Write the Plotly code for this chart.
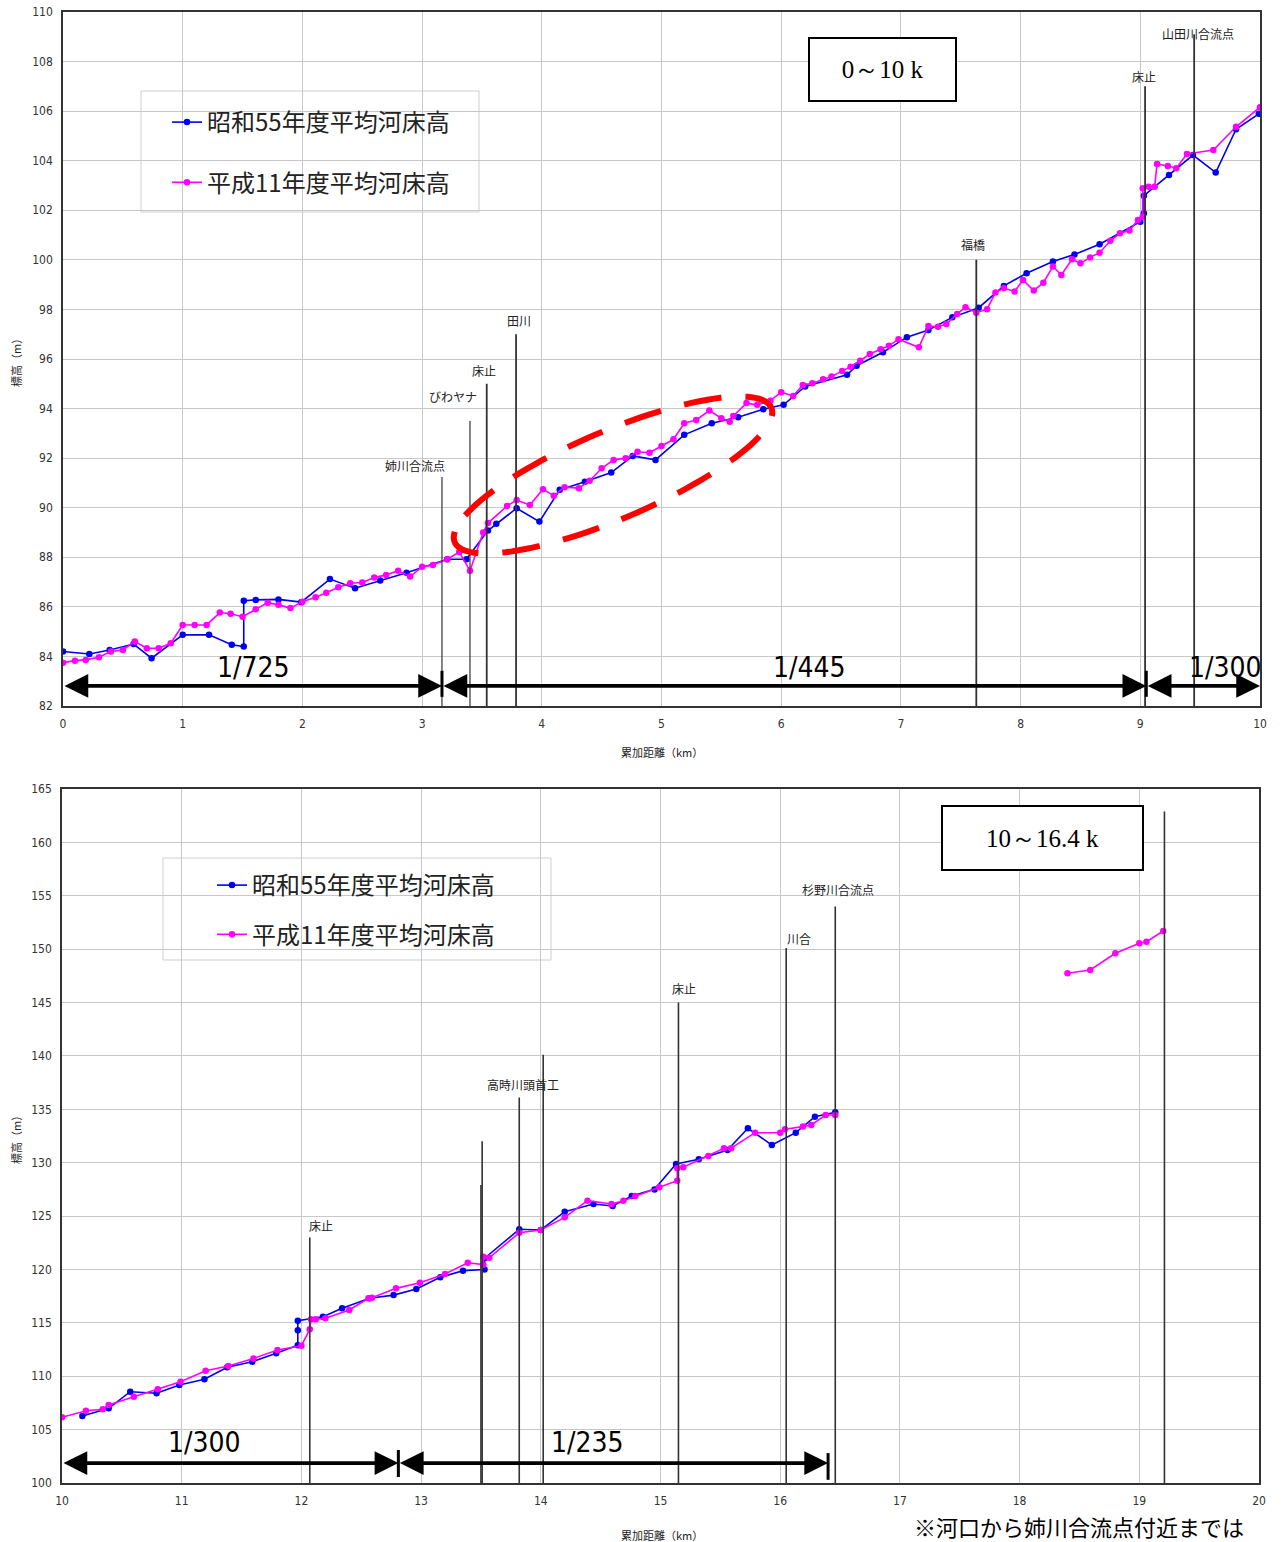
import math
import plotly.graph_objects as go

W, H = 1285, 1542

# ---------------- data: 0-10 k ----------------
s55_top = [(0.0, 84.2), (0.22, 84.1), (0.39, 84.26), (0.59, 84.5), (0.74, 83.93), (1.0, 84.87),
           (1.22, 84.87), (1.41, 84.47), (1.51, 84.4), (1.51, 86.25), (1.61, 86.28), (1.80, 86.3),
           (1.99, 86.19), (2.23, 87.12), (2.44, 86.75), (2.65, 87.06), (2.87, 87.38), (3.21, 87.92),
           (3.37, 87.92), (3.55, 89.08), (3.62, 89.35), (3.79, 89.98), (3.98, 89.44), (4.15, 90.72),
           (4.36, 91.05), (4.58, 91.42), (4.76, 92.09), (4.95, 91.93), (5.19, 92.94), (5.42, 93.41),
           (5.64, 93.65), (5.85, 93.97), (6.02, 94.15), (6.20, 94.89), (6.55, 95.36), (6.63, 95.73),
           (6.85, 96.27), (7.05, 96.88), (7.23, 97.17), (7.43, 97.68), (7.65, 98.07), (7.86, 98.95),
           (8.05, 99.46), (8.27, 99.93), (8.45, 100.22), (8.66, 100.63), (9.0, 101.54), (9.03, 101.88),
           (9.03, 102.59), (9.24, 103.42), (9.44, 104.23), (9.63, 103.52), (9.80, 105.27), (9.99, 105.89)]

h11_top = [(0.0, 83.75), (0.10, 83.83), (0.19, 83.86), (0.30, 83.97), (0.40, 84.2), (0.50, 84.26),
           (0.60, 84.6), (0.70, 84.33), (0.80, 84.33), (0.90, 84.53), (1.0, 85.27), (1.10, 85.27),
           (1.20, 85.27), (1.31, 85.77), (1.40, 85.72), (1.50, 85.6), (1.61, 85.9), (1.71, 86.17),
           (1.80, 86.08), (1.90, 85.95), (2.0, 86.21), (2.11, 86.39), (2.20, 86.57), (2.30, 86.79),
           (2.40, 86.95), (2.50, 86.98), (2.60, 87.18), (2.70, 87.29), (2.80, 87.46), (2.90, 87.22),
           (3.00, 87.62), (3.09, 87.69), (3.21, 87.92), (3.31, 88.21), (3.40, 87.46), (3.51, 89.0),
           (3.55, 89.38), (3.71, 90.07), (3.79, 90.31), (3.90, 90.11), (4.01, 90.75), (4.10, 90.48),
           (4.19, 90.83), (4.31, 90.79), (4.40, 91.09), (4.50, 91.59), (4.60, 91.93), (4.70, 92.0),
           (4.80, 92.26), (4.90, 92.22), (5.0, 92.49), (5.10, 92.76), (5.19, 93.41), (5.29, 93.54),
           (5.40, 93.92), (5.50, 93.61), (5.57, 93.47), (5.60, 93.7), (5.71, 94.22), (5.80, 94.15),
           (5.91, 94.32), (6.0, 94.66), (6.10, 94.51), (6.18, 94.95), (6.26, 95.02), (6.35, 95.18),
           (6.42, 95.29), (6.51, 95.52), (6.58, 95.69), (6.66, 95.93), (6.74, 96.2), (6.83, 96.39),
           (6.90, 96.53), (6.98, 96.8), (7.15, 96.47), (7.23, 97.33), (7.31, 97.3), (7.38, 97.41),
           (7.47, 97.82), (7.54, 98.09), (7.63, 97.87), (7.72, 98.01), (7.79, 98.68), (7.86, 98.86),
           (7.95, 98.72), (8.02, 99.19), (8.11, 98.76), (8.19, 99.08), (8.27, 99.73), (8.34, 99.39),
           (8.43, 100.02), (8.50, 99.86), (8.58, 100.1), (8.66, 100.29), (8.75, 100.77), (8.83, 101.07),
           (8.91, 101.18), (8.98, 101.61), (9.02, 101.74), (9.02, 102.89), (9.07, 102.95), (9.12, 102.95),
           (9.14, 103.87), (9.23, 103.79), (9.30, 103.7), (9.39, 104.27), (9.61, 104.43), (9.80, 105.37),
           (10.0, 106.16)]

# ---------------- data: 10-16.4 k ----------------
s55_bot = [(10.17, 106.28), (10.39, 107.0), (10.57, 108.55), (10.79, 108.4), (10.98, 109.18),
           (11.19, 109.71), (11.38, 110.84), (11.59, 111.36), (11.79, 112.15), (11.97, 112.9),
           (11.97, 114.3), (11.97, 115.2), (12.18, 115.57), (12.34, 116.36), (12.57, 117.3),
           (12.77, 117.6), (12.96, 118.17), (13.16, 119.26), (13.35, 119.89), (13.53, 120.0),
           (13.53, 121.05), (13.82, 123.76), (14.0, 123.7), (14.2, 125.41), (14.44, 126.13),
           (14.6, 125.94), (14.76, 126.88), (14.95, 127.5), (15.13, 129.88), (15.32, 130.32),
           (15.56, 131.19), (15.73, 133.22), (15.93, 131.66), (16.13, 132.81), (16.29, 134.31),
           (16.46, 134.72)]

h11_bot = [(10.0, 106.15), (10.2, 106.77), (10.34, 106.9), (10.39, 107.3), (10.6, 108.08),
           (10.8, 108.77), (10.99, 109.49), (11.2, 110.52), (11.39, 110.96), (11.6, 111.67),
           (11.8, 112.46), (12.0, 112.86), (12.07, 114.39), (12.08, 115.33), (12.12, 115.33),
           (12.2, 115.43), (12.4, 116.2), (12.56, 117.3), (12.59, 117.36), (12.79, 118.23),
           (12.99, 118.76), (13.2, 119.58), (13.39, 120.63), (13.52, 120.45), (13.52, 121.2),
           (13.57, 121.1), (13.82, 123.44), (14.0, 123.7), (14.2, 124.88), (14.39, 126.44),
           (14.59, 126.13), (14.69, 126.44), (14.79, 126.88), (14.99, 127.69), (15.14, 128.31),
           (15.14, 129.47), (15.19, 129.57), (15.4, 130.63), (15.53, 131.35), (15.59, 131.35),
           (15.79, 132.81), (16.0, 132.81), (16.04, 133.13), (16.19, 133.38), (16.26, 133.53),
           (16.38, 134.47), (16.46, 134.47), (None, None),
           (18.40, 147.74), (18.59, 148.05), (18.80, 149.61), (19.0, 150.55), (19.06, 150.7),
           (19.2, 151.7)]

series_names = ["昭和55年度平均河床高", "平成11年度平均河床高"]

# landmark lines: (x, top, label, label_x, label_y, width)
top_marks = [(3.166, 91.24, "姉川合流点", 2.94, 91.69, 1.2),
             (3.40, 93.5, "びわヤナ", 3.26, 94.47, 1.2),
             (3.54, 95.0, "床止", 3.52, 95.52, 1.8),
             (3.785, 97.0, "田川", 3.81, 97.54, 1.8),
             (7.63, 100.0, "福橋", 7.60, 100.6, 1.8),
             (9.04, 107.0, "床止", 9.03, 107.38, 1.8),
             (9.45, 109.1, "山田川合流点", 9.48, 109.15, 1.8)]
bot_marks = [(12.07, 123.0, "床止", 12.16, 124.16, 1.6),
             (13.50, 127.9, "", 0, 0, 1.6),
             (13.51, 132.0, "", 0, 0, 1.6),
             (13.82, 136.1, "高時川頭首工", 13.85, 137.28, 1.6),
             (14.02, 140.1, "", 0, 0, 1.6),
             (15.15, 145.0, "床止", 15.20, 146.27, 1.6),
             (16.05, 150.1, "川合", 16.16, 151.04, 1.6),
             (16.46, 154.0, "杉野川合流点", 16.48, 155.54, 1.6),
             (19.21, 162.9, "", 0, 0, 1.6)]

# gradient arrows: (start, end, label, label_x)
top_grad = [(0.0, 3.166, "1/725", 1.59), (3.166, 9.05, "1/445", 6.24), (9.05, 10.0, "1/300", 9.71)]
top_grad_y, top_grad_label_y = 82.81, 83.54
bot_grad = [(10.0, 12.81, "1/300", 11.19), (12.81, 16.40, "1/235", 14.39)]
bot_grad_y, bot_grad_label_y = 101.87, 103.8

# ---------------- layout geometry (px) ----------------
TOP = dict(l=63, r=1260, t=12, b=706, x0=0, x1=10, y0=82, y1=110)
BOT = dict(l=62, r=1259, t=789, b=1483, x0=10, x1=20, y0=100, y1=165)


def px(x):
    return x / W


def py(y):
    return 1 - y / H


NARROW = "Liberation Sans Narrow, DejaVu Sans Condensed, Roboto, Liberation Sans, sans-serif"
TICK_FONT = dict(family=NARROW, size=12, color="#333")
JP = "Noto Sans CJK JP"
BLUE = "#0000f0"
MAG = "#ff00ff"

fig = go.Figure()


def unzip(pairs):
    return [p[0] for p in pairs], [p[1] for p in pairs]


for data, col, name, xa, ya, lg, grp in [
    (s55_top, BLUE, series_names[0], "x", "y", "legend", "a"),
    (h11_top, MAG, series_names[1], "x", "y", "legend", "b"),
    (s55_bot, BLUE, series_names[0], "x2", "y2", "legend2", "c"),
    (h11_bot, MAG, series_names[1], "x2", "y2", "legend2", "d"),
]:
    xs, ys = unzip(data)
    fig.add_trace(go.Scatter(x=xs, y=ys, mode="lines+markers", name=name,
                             line=dict(color=col, width=1.6), marker=dict(color=col, size=6.5),
                             xaxis=xa, yaxis=ya, legend=lg, legendgroup=grp,
                             connectgaps=False, hoverinfo="x+y"))

shapes = []
annotations = []

for marks, xr, yr, ybase in [(top_marks, "x", "y", TOP["y0"]), (bot_marks, "x2", "y2", BOT["y0"])]:
    for x, top, label, lx, ly, w in marks:
        shapes.append(dict(type="line", xref=xr, yref=yr, x0=x, x1=x, y0=ybase, y1=top,
                           line=dict(color="#333", width=w)))
        if label:
            annotations.append(dict(xref=xr, yref=yr, x=lx, y=ly, text=label, showarrow=False,
                                    font=dict(family=JP, size=12, color="#222"),
                                    xanchor="center", yanchor="middle"))


def add_grad(grads, gy, ly, xr, yr, tick_lo, tick_hi):
    for i, (a, b, label, lx) in enumerate(grads):
        annotations.append(dict(xref=xr, yref=yr, axref=xr, ayref=yr, x=b, y=gy, ax=a, ay=gy,
                                text="", showarrow=True, arrowside="end+start",
                                arrowhead=2, startarrowhead=2, arrowsize=1.25, startarrowsize=1.25,
                                arrowwidth=3.8, arrowcolor="#000", standoff=0, startstandoff=0))
        annotations.append(dict(xref=xr, yref=yr, x=lx, y=ly, text=label, showarrow=False,
                                font=dict(family=NARROW, size=28, color="#000"),
                                xanchor="center", yanchor="middle"))
        if i > 0:
            shapes.append(dict(type="line", xref=xr, yref=yr, x0=a, x1=a, y0=tick_lo, y1=tick_hi,
                               line=dict(color="#000", width=3)))


add_grad(top_grad, top_grad_y, top_grad_label_y, "x", "y", 82.37, 83.42)
add_grad(bot_grad, bot_grad_y, bot_grad_label_y, "x2", "y2", 100.56, 103.09)
shapes.append(dict(type="line", xref="x2", yref="y2", x0=bot_grad[-1][1], x1=bot_grad[-1][1],
                   y0=100.3, y1=102.8, line=dict(color="#000", width=3)))

# red dashed ellipse (highlight), centre in data units, axes in px
ell_cx, ell_cy, ell_a, ell_b, ell_deg = 4.595, 91.32, 172, 44, 23
kx = (TOP["r"] - TOP["l"]) / (TOP["x1"] - TOP["x0"])
ky = (TOP["b"] - TOP["t"]) / (TOP["y1"] - TOP["y0"])
th = math.radians(ell_deg)
pts = []
for i in range(121):
    t = 2 * math.pi * i / 120 + math.pi * 0.93
    dx = ell_a * math.cos(t) * math.cos(th) - ell_b * math.sin(t) * math.sin(th)
    du = ell_a * math.cos(t) * math.sin(th) + ell_b * math.sin(t) * math.cos(th)
    pts.append((ell_cx + dx / kx, ell_cy + du / ky))
path = "M " + " L ".join(f"{a:.4f},{b:.4f}" for a, b in pts)
shapes.append(dict(type="path", xref="x", yref="y", path=path,
                   line=dict(color="#ff0000", width=6, dash="38px,24px")))

# range boxes
SERIF = dict(family="Liberation Serif, DejaVu Serif, serif", size=25, color="#000")
annotations.append(dict(xref="paper", yref="paper", x=px(882.5), y=py(69.5), xanchor="center",
                        yanchor="middle", text="0～10 k", showarrow=False, width=143, height=59,
                        bordercolor="#000", borderwidth=2, bgcolor="white", font=SERIF))
annotations.append(dict(xref="paper", yref="paper", x=px(1042.5), y=py(838), xanchor="center",
                        yanchor="middle", text="10～16.4 k", showarrow=False, width=197, height=60,
                        bordercolor="#000", borderwidth=2, bgcolor="white", font=SERIF))

# legend frames
for x0, y0, x1, y1 in [(141, 91, 479, 212), (163, 858, 551, 960)]:
    shapes.append(dict(type="rect", xref="paper", yref="paper", x0=px(x0), x1=px(x1),
                       y0=py(y1), y1=py(y0), line=dict(color="#cfcfcf", width=1),
                       fillcolor="white", layer="below"))

# axis titles
for ypx in (360, 1137):
    annotations.append(dict(xref="paper", yref="paper", x=px(16), y=py(ypx), xanchor="center",
                            yanchor="middle", text="標高（m）", textangle=-90, showarrow=False,
                            font=dict(family=JP, size=11, color="#222")))
for ypx in (752, 1535):
    annotations.append(dict(xref="paper", yref="paper", x=px(662), y=py(ypx), xanchor="center",
                            yanchor="middle", text="累加距離（km）", showarrow=False,
                            font=dict(family=JP, size=11, color="#222")))

annotations.append(dict(xref="paper", yref="paper", x=px(912), y=py(1526), xanchor="left",
                        yanchor="middle", text="※河口から姉川合流点付近までは", showarrow=False,
                        font=dict(family=JP, size=22, color="#000")))


def axis(dom, rng, dtick, anchor):
    return dict(domain=dom, range=rng, dtick=dtick, tick0=rng[0], showgrid=True, gridcolor="#c8c8c8",
                gridwidth=1, showline=True, mirror=True, linecolor="#333", linewidth=1.5,
                zeroline=False, ticks="", tickfont=TICK_FONT, anchor=anchor, fixedrange=True,
                ticklabelstandoff=6, automargin=False)


legend_common = dict(bgcolor="rgba(0,0,0,0)", borderwidth=0,
                     font=dict(family=JP, size=24, color="#222"),
                     itemwidth=30, xanchor="left", yanchor="top")

fig.update_layout(
    width=W, height=H, margin=dict(l=0, r=0, t=0, b=0, autoexpand=False),
    paper_bgcolor="white", plot_bgcolor="white",
    xaxis=axis([px(TOP["l"]), px(TOP["r"])], [TOP["x0"], TOP["x1"]], 1, "y"),
    yaxis=axis([py(TOP["b"]), py(TOP["t"])], [TOP["y0"], TOP["y1"]], 2, "x"),
    xaxis2=axis([px(BOT["l"]), px(BOT["r"])], [BOT["x0"], BOT["x1"]], 1, "y2"),
    yaxis2=axis([py(BOT["b"]), py(BOT["t"])], [BOT["y0"], BOT["y1"]], 5, "x2"),
    legend=dict(x=px(141), y=py(100), tracegroupgap=26, indentation=26, **legend_common),
    legend2=dict(x=px(163), y=py(863), tracegroupgap=15, indentation=49, **legend_common),
    shapes=shapes, annotations=annotations, showlegend=True,
)

fig.write_html("out.html", config={"displayModeBar": False, "responsive": False},
               post_script="document.body.style.margin='0';document.body.style.overflow='hidden';")
